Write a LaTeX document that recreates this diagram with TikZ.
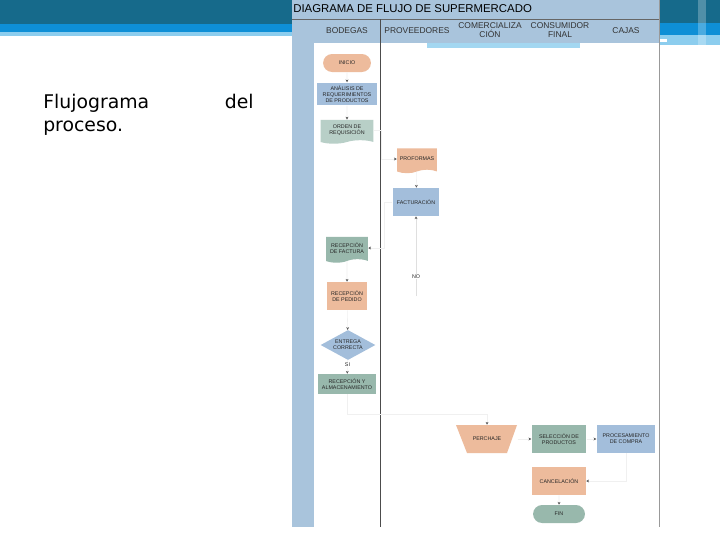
\documentclass[tikz,border=0pt]{standalone}
\usepackage{fontspec}
\setmainfont{Liberation Sans}
\newfontfamily\slidefont{DejaVu Sans}
\usepackage{tikz}
\usetikzlibrary{arrows.meta, shapes.geometric, shapes.symbols, shapes.misc}

\definecolor{bannerteal}{HTML}{166A8B}
\definecolor{bannerblue}{HTML}{0E8FD6}
\definecolor{bannerlight}{HTML}{8CCDEE}
\definecolor{lanefill}{HTML}{A9C4DC}
\definecolor{peach}{HTML}{EDBB9C}
\definecolor{steel}{HTML}{A3BEDB}
\definecolor{sage}{HTML}{98B8AC}
\definecolor{sagelight}{HTML}{B8CFC7}

\begin{document}
\begin{tikzpicture}[
      x=0.025cm, y=-0.025cm,
      >=Stealth,
      tiny/.style={font=\fontsize{3.8}{4.4}\selectfont, align=center, inner sep=0pt, text=black!85},
      proc/.style={rectangle, tiny},
      docu/.style={tape, tape bend top=none, tape bend bottom=in and out, tape bend height=2.5pt, tiny},
      term/.style={rounded rectangle, tiny},
      decision/.style={diamond, aspect=2, tiny},
      lanehead/.style={font=\fontsize{6}{6.4}\selectfont, align=center, inner sep=0pt, text=black!80},
      slide/.style={font=\slidefont\fontsize{13.4}{15}\selectfont, inner sep=0pt},
      flow/.style={draw=gray!12, line width=0.4pt, -{Stealth[length=2pt, width=2pt, color=gray!70!black]}}
  ]
      \useasboundingbox (0,0) rectangle (720,540);

      % slide banner
      \fill[bannerteal] (0,0) rectangle (720,24);
      \fill[bannerblue] (0,24) rectangle (720,32);
      \fill[bannerlight] (0,32) rectangle (720,36);
      \fill[bannerblue] (659,23) rectangle (720,35);
      \fill[bannerlight] (659,35) rectangle (720,45);
      \fill[white] (660,39) rectangle (667,42);
      \fill[white, opacity=0.25] (698,0) rectangle (706,45);

      % slide text
      \node[slide, anchor=base west] (word1) at (43,108) {Flujograma};
      \node[slide, anchor=base east] (word2) at (254,108) {del};
      \node[slide, anchor=base west] (word3) at (43,131) {proceso.};

      % diagram panel
      \fill[lanefill] (292,0) rectangle (659,527);
      \fill[white] (314,43) rectangle (659,527);
      \fill[bannerlight!80!white] (427,43) rectangle (580,48);
      \draw[black!60, line width=0.5pt] (292,19) -- (659,19);
      \draw[black!70, line width=0.6pt] (380,19) -- (380,527);
      \draw[black!40, line width=0.6pt] (659,0) -- (659,527);

      \node[anchor=west, font=\fontsize{8.1}{9}\selectfont, inner sep=0pt] (title) at (293,9) {DIAGRAMA DE FLUJO DE SUPERMERCADO};
      \node[lanehead] (hbod)  at (347,31) {BODEGAS};
      \node[lanehead] (hprov) at (417,31) {PROVEEDORES};
      \node[lanehead] (hcom)  at (490,30) {COMERCIALIZA\\CIÓN};
      \node[lanehead] (hcons) at (560,30) {CONSUMIDOR\\FINAL};
      \node[lanehead] (hcaj)  at (626,31) {CAJAS};

      % bodegas
      \node[term, fill=peach, minimum width=34pt, minimum height=12.8pt] (inicio) at (347,63) {INICIO};
      \node[proc, fill=steel, minimum width=42.5pt, minimum height=16.3pt] (analisis) at (347,94) {ANÁLISIS DE\\REQUERIMIENTOS\\DE PRODUCTOS};
      \node[docu, fill=sagelight, minimum width=37.6pt, minimum height=17pt] (orden) at (347,130) {ORDEN DE\\REQUISICIÓN};
      \node[docu, fill=sage, minimum width=29.8pt, minimum height=18.4pt] (recfactura) at (347,248) {RECEPCIÓN\\DE FACTURA};
      \node[proc, fill=peach, minimum width=29pt, minimum height=19.9pt] (recpedido) at (347,296) {RECEPCIÓN\\DE PEDIDO};
      \node[decision, fill=steel, minimum width=39pt, minimum height=21.3pt] (entrega) at (348,345) {ENTREGA\\CORRECTA};
      \node[proc, fill=sage, minimum width=41pt, minimum height=14.2pt] (recalm) at (347,384) {RECEPCIÓN Y\\ALMACENAMIENTO};

      % proveedores
      \node[docu, fill=peach, minimum width=28.4pt, minimum height=17.7pt] (proformas) at (417,159) {PROFORMAS};
      \node[proc, fill=steel, minimum width=33.3pt, minimum height=19.9pt] (facturacion) at (416,202) {FACTURACIÓN};
      \coordinate (nofree) at (416,296);

      % comercializacion, consumidor, cajas
      \fill[peach] (456,425) -- (517,425) -- (507,453) -- (467,453) -- cycle;
      \node[proc, minimum width=43pt, minimum height=19.9pt] (perchaje) at (487,439) {PERCHAJE};
      \node[proc, fill=sage, minimum width=39pt, minimum height=19.9pt] (seleccion) at (559,439) {SELECCIÓN DE\\PRODUCTOS};
      \node[proc, fill=steel, minimum width=41.8pt, minimum height=19.9pt] (procesa) at (626,439) {PROCESAMIENTO\\DE COMPRA};
      \node[proc, fill=peach, minimum width=38.3pt, minimum height=19.9pt] (cancela) at (559,481) {CANCELACIÓN};
      \node[term, fill=sage, minimum width=36.9pt, minimum height=12.8pt] (fin) at (559,514) {FIN};

      \draw[flow] (inicio) -- (analisis);
      \draw[flow] (analisis) -- (orden);
      \draw[flow] (orden.east) -- ++(8,0) |- (proformas.west);
      \draw[flow] (proformas) -- (facturacion);
      \draw[flow, draw=gray!25] (nofree) -- node[pos=0.24, tiny, fill=white, inner sep=0.5pt] {NO} (facturacion);
      \draw[flow] (facturacion.west) -- ++(-8,0) |- (recfactura.east);
      \draw[flow] (recfactura) -- (recpedido);
      \draw[flow] (recpedido) -- (entrega);
      \draw[flow] (entrega) -- node[pos=0.35, tiny, fill=white, inner sep=0.5pt] {SI} (recalm);
      \draw[flow] (recalm.south) -- ++(0,20) -| (perchaje.north);
      \draw[flow] (perchaje) -- (seleccion);
      \draw[flow] (seleccion) -- (procesa);
      \draw[flow] (procesa.south) |- (cancela.east);
      \draw[flow] (cancela) -- (fin);

  \end{tikzpicture}
\end{document}
